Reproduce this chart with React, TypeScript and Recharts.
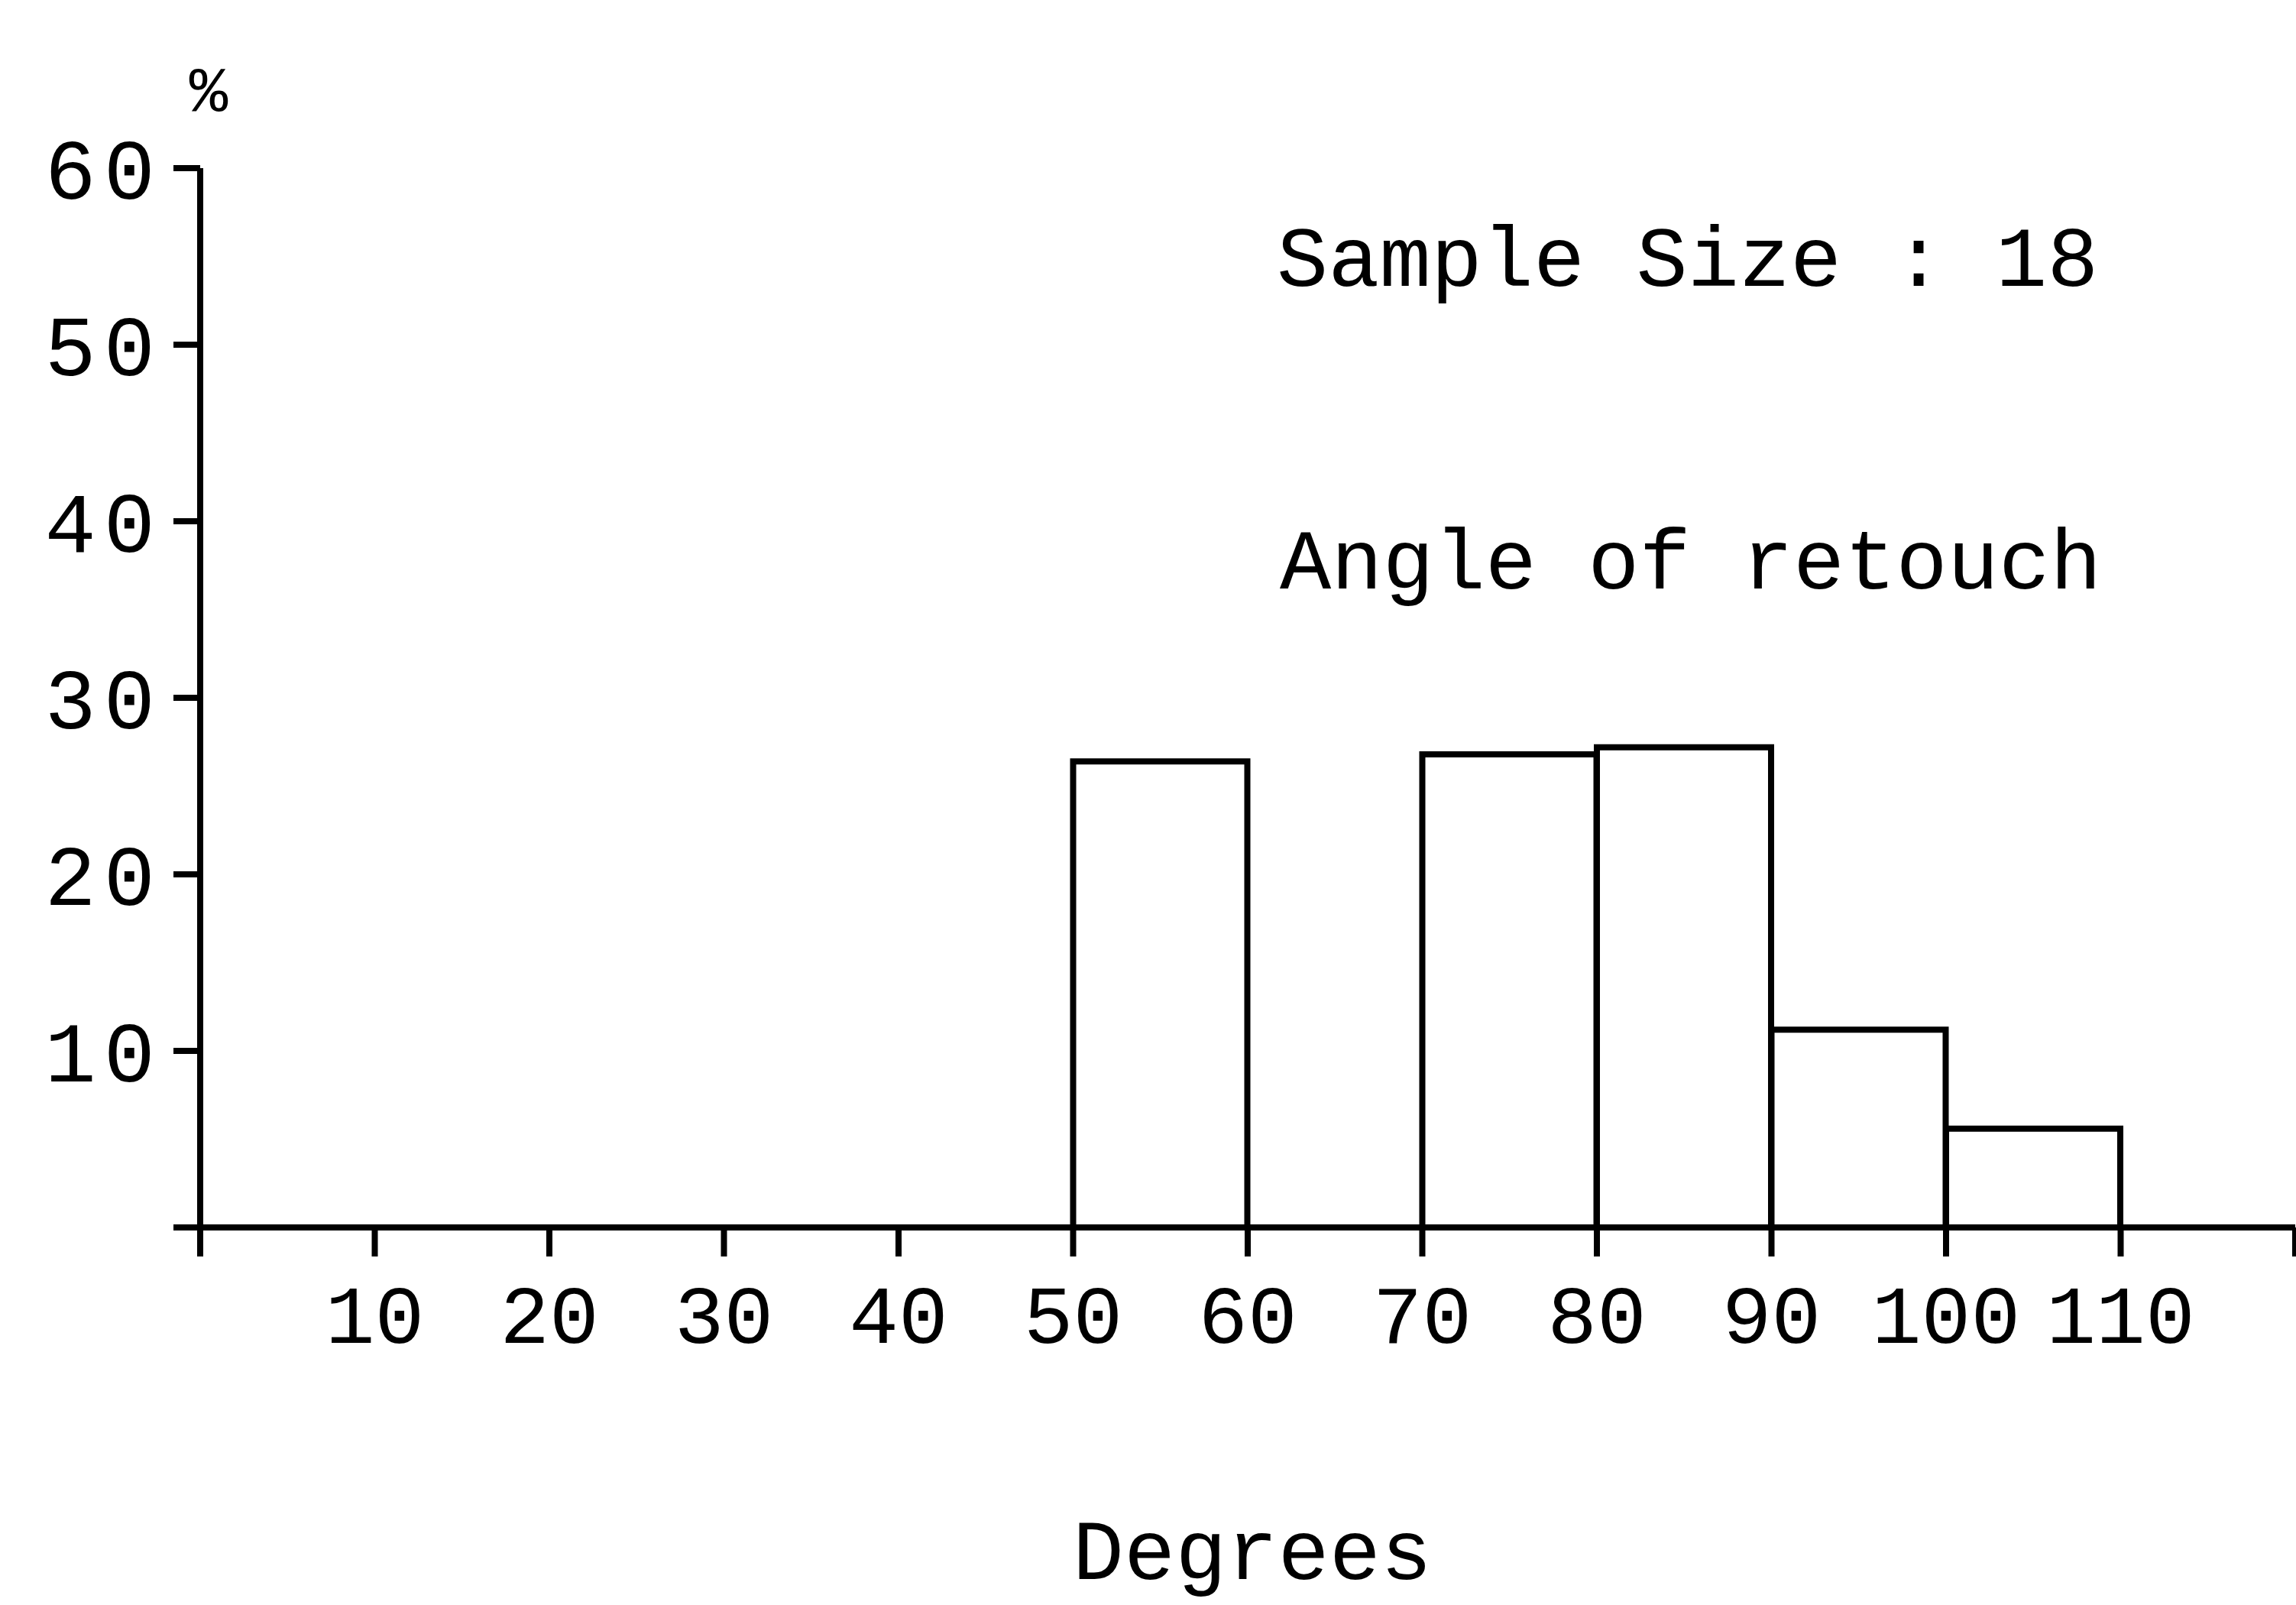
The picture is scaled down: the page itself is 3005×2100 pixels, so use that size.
import { BarChart, Bar, XAxis, YAxis } from "recharts";

// histogram bins (degrees) and the share of the sample in each
const bins = ["0-10", "10-20", "20-30", "30-40", "40-50", "50-60", "60-70", "70-80", "80-90", "90-100", "100-110", "110-120"];
const binMid = [5, 15, 25, 35, 45, 55, 65, 75, 85, 95, 105, 115];
const percent = [0, 0, 0, 0, 0, 26.4, 0, 26.8, 27.2, 11.2, 5.6, 0];

const xTicks = [0, 10, 20, 30, 40, 50, 60, 70, 80, 90, 100, 110, 120];
const yTicks = [0, 10, 20, 30, 40, 50, 60];

const FONT = "'Liberation Mono', 'DejaVu Sans Mono', monospace";
const LINE = 8;

const data = bins.map((bin, i) => ({ bin, mid: binMid[i], pct: percent[i] }));

export default function App() {
  return (
    <div style={{ position: "absolute", left: 0, top: 0, width: 3005, height: 2100, background: "#fff" }}>
      <BarChart
        width={3005}
        height={2100}
        data={data}
        margin={{ top: 220, right: 1, bottom: 0, left: 0 }}
        barCategoryGap={0}
        barGap={0}
      >
        <XAxis
          dataKey="mid"
          type="number"
          domain={[0, 120]}
          ticks={xTicks}
          interval={0}
          height={494}
          tickSize={38}
          tickMargin={36}
          axisLine={{ stroke: "#000", strokeWidth: LINE }}
          tickLine={{ stroke: "#000", strokeWidth: LINE }}
          tick={{ fontFamily: FONT, fontSize: 108, fill: "#000" }}
          tickFormatter={(v) => (v === 0 || v === 120 ? "" : String(v))}
        />
        <YAxis
          domain={[0, 60]}
          ticks={yTicks}
          interval={0}
          width={262}
          tickSize={35}
          tickMargin={14}
          axisLine={{ stroke: "#000", strokeWidth: LINE }}
          tickLine={{ stroke: "#000", strokeWidth: LINE }}
          tick={{ fontFamily: FONT, fontSize: 112, fill: "#000", letterSpacing: 10 }}
          tickFormatter={(v) => (v === 0 ? "" : String(v))}
        />
        <Bar dataKey="pct" fill="none" stroke="#000" strokeWidth={LINE} isAnimationActive={false} />
      </BarChart>

      {/* free text on the figure */}
      <svg
        width={3005}
        height={2100}
        style={{ position: "absolute", left: 0, top: 0, pointerEvents: "none" }}
        fontFamily={FONT}
        fill="#000"
      >
        <text x={273} y={146} fontSize={84} textAnchor="middle">%</text>
        <text x={1671} y={374} fontSize={112}>Sample Size : 18</text>
        <text x={1675} y={770} fontSize={112}>Angle of retouch</text>
        <text x={1639} y={2066} fontSize={112} textAnchor="middle">Degrees</text>
      </svg>
    </div>
  );
}
